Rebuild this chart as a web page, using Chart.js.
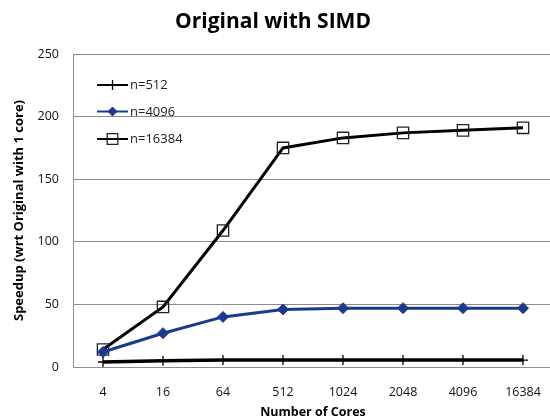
<!DOCTYPE html>
<html>
<head>
<meta charset="utf-8">
<script src="https://cdn.jsdelivr.net/npm/chart.js@4/dist/chart.umd.min.js"></script>
<style>
  html, body { margin: 0; padding: 0; background: #fff; overflow: hidden; }
  #wrap { width: 550px; height: 420px; position: relative; }
</style>
</head>
<body>
<div id="wrap"><canvas id="c" width="550" height="420"></canvas></div>
<script>
// Core counts on the x axis
const cores = ['4', '16', '64', '512', '1024', '2048', '4096', '16384'];

// Speedup relative to the original code on 1 core, one array per problem size
const speedup512   = [4, 5, 5.5, 5.5, 5.5, 5.5, 5.5, 5.5];
const speedup4096  = [12, 27, 40, 46, 47, 47, 47, 47];
const speedup16384 = [14, 48, 109, 175, 183, 187, 189, 191];

const seriesLabels = ['n=512', 'n=4096', 'n=16384'];
const yTicks = [0, 50, 100, 150, 200, 250];

const FONT = '"Open Sans", "Liberation Sans", sans-serif';
const NAVY = '#1c3a8c';

// Title above the plot
const titlePlugin = {
  id: 'topTitle',
  afterDraw(chart) {
    const ctx = chart.ctx;
    ctx.save();
    ctx.font = 'bold 21px ' + FONT;
    ctx.fillStyle = '#000';
    ctx.textAlign = 'center';
    ctx.textBaseline = 'middle';
    ctx.fillText('Original with SIMD', 273, 22);
    ctx.restore();
  }
};

// Let the plot area run a few pixels past the right edge of the canvas
const widenPlot = {
  id: 'widenPlot',
  afterLayout(chart) {
    const right = 553;
    const area = chart.chartArea;
    area.right = right;
    area.width = right - area.left;
    const x = chart.scales.x;
    x.right = right;
    x.width = right - x.left;
    x.configure();
  }
};

// Legend drawn inside the plot area, top-left, one row per series
const insideLegend = {
  id: 'insideLegend',
  afterDraw(chart) {
    const ctx = chart.ctx;
    const x0 = 97, x1 = 128, rowY = [85, 111.5, 139];
    chart.data.datasets.forEach((ds, i) => {
      const y = rowY[i];
      ctx.save();
      ctx.strokeStyle = ds.borderColor;
      ctx.lineWidth = 2;
      ctx.beginPath();
      ctx.moveTo(x0, y);
      ctx.lineTo(x1, y);
      ctx.stroke();
      ctx.fillStyle = ds.pointBackgroundColor;
      ctx.strokeStyle = ds.pointBorderColor;
      ctx.lineWidth = ds.legendMarkerBorder;
      Chart.helpers.drawPoint(ctx, {
        pointStyle: ds.pointStyle,
        radius: ds.legendMarkerRadius,
        borderWidth: ds.legendMarkerBorder,
        rotation: 0
      }, (x0 + x1) / 2, y);
      ctx.font = '13px ' + FONT;
      ctx.fillStyle = '#222';
      ctx.textAlign = 'left';
      ctx.textBaseline = 'middle';
      ctx.fillText(ds.label, x1 + 2, y + 0.5);
      ctx.restore();
    });
  }
};

new Chart(document.getElementById('c'), {
  type: 'line',
  data: {
    labels: cores,
    datasets: [
      {
        label: seriesLabels[0],
        data: speedup512,
        borderColor: '#000',
        borderWidth: 3.5,
        pointStyle: 'cross',
        pointRadius: 5,
        pointBorderWidth: 1.3,
        pointBorderColor: '#000',
        pointBackgroundColor: '#000',
        legendMarkerRadius: 5,
        legendMarkerBorder: 1.3,
        tension: 0
      },
      {
        label: seriesLabels[1],
        data: speedup4096,
        borderColor: NAVY,
        borderWidth: 3,
        pointStyle: 'rectRot',
        pointRadius: 5.5,
        pointBorderWidth: 1,
        pointBorderColor: NAVY,
        pointBackgroundColor: NAVY,
        legendMarkerRadius: 4.5,
        legendMarkerBorder: 1,
        tension: 0
      },
      {
        label: seriesLabels[2],
        data: speedup16384,
        borderColor: '#000',
        borderWidth: 3,
        pointStyle: 'rect',
        pointRadius: 8,
        pointBorderWidth: 1.3,
        pointBorderColor: '#222',
        pointBackgroundColor: 'rgba(255,255,255,0)',
        legendMarkerRadius: 7.5,
        legendMarkerBorder: 1.3,
        tension: 0
      }
    ]
  },
  options: {
    responsive: false,
    animation: false,
    events: [],
    layout: { padding: { top: 54, left: 0, right: 0, bottom: 0 } },
    plugins: {
      legend: { display: false },
      title: { display: false },
      tooltip: { enabled: false }
    },
    scales: {
      x: {
        offset: true,
        grid: { display: false, drawTicks: false },
        border: { display: true, color: '#8c8c8c', width: 1 },
        ticks: {
          padding: 18,
          color: '#111',
          font: { family: FONT, size: 12.5 },
          maxRotation: 0,
          autoSkip: false
        },
        title: {
          display: true,
          text: 'Number of Cores',
          color: '#000',
          font: { family: FONT, size: 12.5, weight: 'bold' },
          padding: { top: 0, bottom: 0 }
        },
        afterFit(scale) { scale.height = 53; }
      },
      y: {
        min: 0,
        max: 250,
        afterBuildTicks(scale) { scale.ticks = yTicks.map(v => ({ value: v })); },
        grid: { color: '#8c8c8c', lineWidth: 1, drawTicks: false },
        border: { display: true, color: '#8c8c8c', width: 1 },
        ticks: {
          padding: 14,
          color: '#111',
          font: { family: FONT, size: 12.5 }
        },
        title: {
          display: true,
          text: 'Speedup (wrt Original with 1 core)',
          color: '#000',
          font: { family: FONT, size: 13, weight: 'bold' },
          padding: { top: 11, bottom: 0 }
        },
        afterFit(scale) { scale.width = 73; }
      }
    }
  },
  plugins: [titlePlugin, widenPlot, insideLegend]
});
</script>
</body>
</html>
